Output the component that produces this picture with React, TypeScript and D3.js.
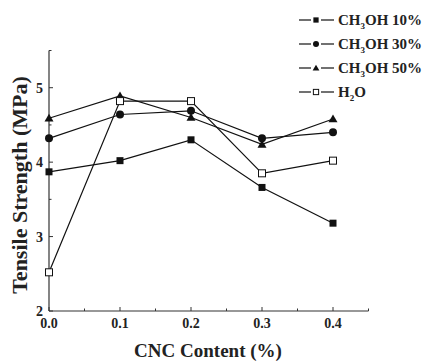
import React from "react";
import * as d3 from "d3";

const cnc = [0.0, 0.1, 0.2, 0.3, 0.4];
const meoh10 = [3.87, 4.02, 4.3, 3.66, 3.18];
const meoh30 = [4.32, 4.64, 4.69, 4.32, 4.4];
const meoh50 = [4.59, 4.89, 4.6, 4.24, 4.58];
const water = [2.52, 4.82, 4.82, 3.85, 4.02];
const xTicks = [0.0, 0.1, 0.2, 0.3, 0.4];
const yTicks = [2, 3, 4, 5];

type Series = { name: string; head: string; sub: string; rest: string; values: number[]; marker: string };

const series: Series[] = [
  { name: "CH3OH 10%", head: "CH", sub: "3", rest: "OH 10%", values: meoh10, marker: "square" },
  { name: "CH3OH 30%", head: "CH", sub: "3", rest: "OH 30%", values: meoh30, marker: "circle" },
  { name: "CH3OH 50%", head: "CH", sub: "3", rest: "OH 50%", values: meoh50, marker: "triangle" },
  { name: "H2O", head: "H", sub: "2", rest: "O", values: water, marker: "open" },
];

const txt: React.CSSProperties = {
  fontFamily: "'Liberation Serif', 'Times New Roman', 'DejaVu Serif', serif",
  fontWeight: 700,
};

const Marker: React.FC<{ kind: string; cx: number; cy: number; s?: number }> = ({ kind, cx, cy, s = 1 }) => {
  if (kind === "square")
    return <rect x={cx - 3.5 * s} y={cy - 3.5 * s} width={7 * s} height={7 * s} fill="#111" />;
  if (kind === "circle") return <circle cx={cx} cy={cy} r={4 * s} fill="#111" />;
  if (kind === "triangle") {
    const r = 4.5 * s;
    return <path d={`M${cx},${cy - r}L${cx + r},${cy + r * 0.75}L${cx - r},${cy + r * 0.75}Z`} fill="#111" />;
  }
  return (
    <rect x={cx - 3.5 * s} y={cy - 3.5 * s} width={7 * s} height={7 * s} fill="#fff" stroke="#111" strokeWidth={1} />
  );
};

export default function App() {
  const left = 49;
  const bottom = 311;
  const x = d3.scaleLinear().domain([0, 0.45]).range([left, 368.5]);
  const y = d3.scaleLinear().domain([2, 5.5]).range([bottom, 50.5]);

  const line = d3
    .line<[number, number]>()
    .x((d) => x(d[0]))
    .y((d) => y(d[1]));

  const xMinor = d3.range(0.05, 0.451, 0.1);
  const yMinor = d3.range(2.5, 5.51, 1);

  return (
    <svg width={423} height={362} style={{ position: "absolute", left: 0, top: 0, background: "#fff" }}>
      {/* axes */}
      <line x1={left} x2={left} y1={y(5.5)} y2={bottom} stroke="#333" strokeWidth={1.2} />
      <line x1={left} x2={x(0.45)} y1={bottom} y2={bottom} stroke="#333" strokeWidth={1.2} />
      {xTicks.map((t) => (
        <g key={"x" + t}>
          <line x1={x(t)} x2={x(t)} y1={bottom} y2={bottom - 4} stroke="#333" />
          <text x={x(t)} y={328} textAnchor="middle" fontSize={14} fill="#222" style={txt}>
            {t.toFixed(1)}
          </text>
        </g>
      ))}
      {xMinor.map((t) => (
        <line key={"xm" + t} x1={x(t)} x2={x(t)} y1={bottom} y2={bottom - 2.5} stroke="#333" />
      ))}
      {yTicks.map((t) => (
        <g key={"y" + t}>
          <line x1={left} x2={left + 4} y1={y(t)} y2={y(t)} stroke="#333" />
          <text x={left - 6} y={y(t) + 5} textAnchor="end" fontSize={14} fill="#222" style={txt}>
            {t}
          </text>
        </g>
      ))}
      {yMinor.map((t) => (
        <line key={"ym" + t} x1={left} x2={left + 2.5} y1={y(t)} y2={y(t)} stroke="#333" />
      ))}

      {/* axis titles */}
      <text transform="translate(27,185) rotate(-90)" textAnchor="middle" fontSize={22} fill="#222" style={txt}>
        Tensile Strength (MPa)
      </text>
      <text x={208} y={357} textAnchor="middle" fontSize={19} fill="#222" style={txt}>
        CNC Content (%)
      </text>

      {/* series */}
      {series.map((s) => {
        const pts = cnc.map((c, i) => [c, s.values[i]] as [number, number]);
        return (
          <g key={s.name}>
            <path d={line(pts) || ""} fill="none" stroke="#111" strokeWidth={1.2} />
            {pts.map((p, i) => (
              <Marker key={i} kind={s.marker} cx={x(p[0])} cy={y(p[1])} />
            ))}
          </g>
        );
      })}

      {/* legend */}
      {series.map((s, i) => {
        const ly = 20 + i * 24;
        return (
          <g key={"lg" + s.name}>
            <line x1={299} x2={311} y1={ly} y2={ly} stroke="#111" strokeWidth={1.2} />
            <line x1={321} x2={334} y1={ly} y2={ly} stroke="#111" strokeWidth={1.2} />
            <Marker kind={s.marker} cx={316} cy={ly} s={0.75} />
            <text x={338} y={ly + 5} fontSize={15} fill="#222" style={txt}>
              {s.head}
              <tspan fontSize={9} dy={4}>
                {s.sub}
              </tspan>
              <tspan dy={-4}>{s.rest}</tspan>
            </text>
          </g>
        );
      })}
    </svg>
  );
}
